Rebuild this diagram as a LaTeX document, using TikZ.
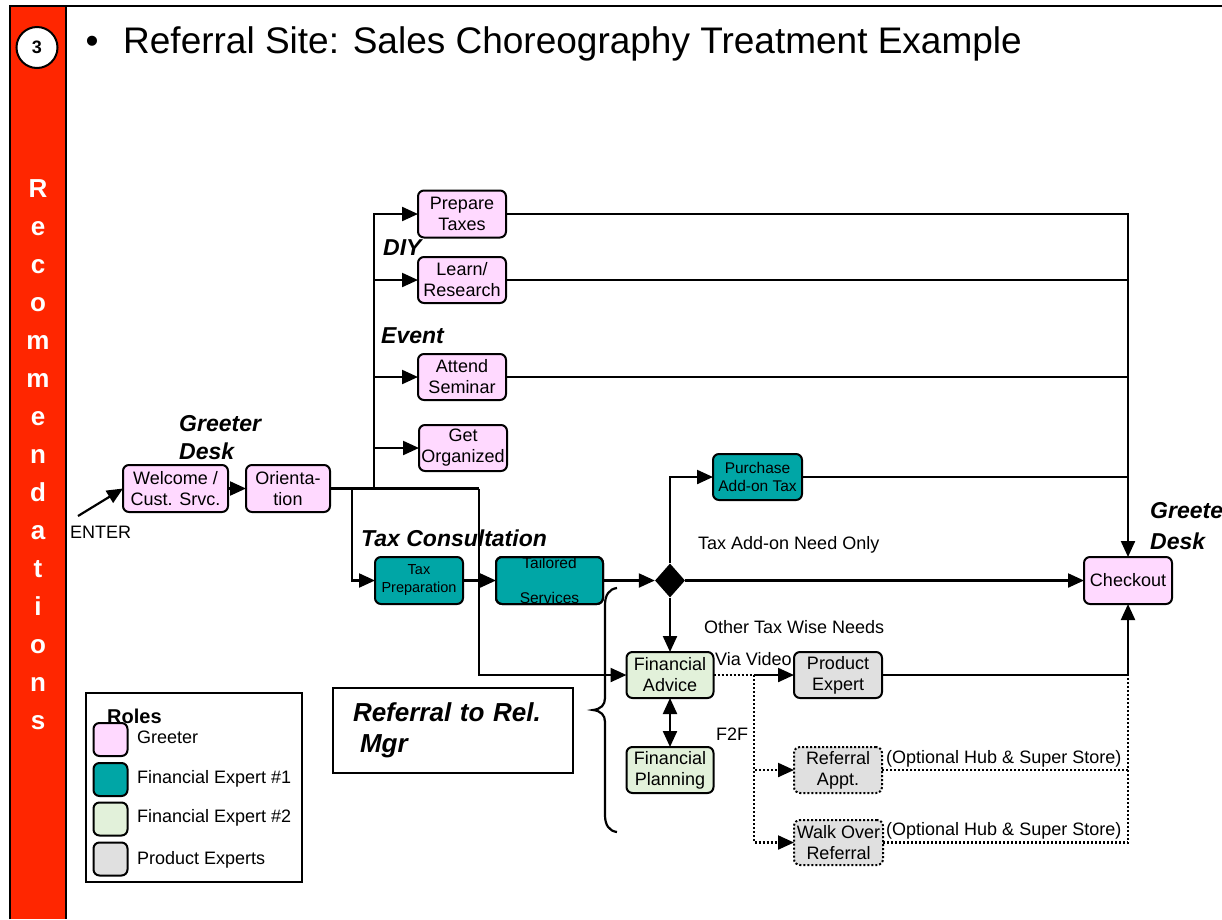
\documentclass[tikz,border=0pt]{standalone}
\usepackage{fontspec}
\setmainfont{Liberation Sans}
\usetikzlibrary{arrows.meta,shapes.geometric}
\definecolor{barred}{RGB}{255,38,0}
\definecolor{greeterpink}{RGB}{255,217,255}
\definecolor{expertteal}{RGB}{0,166,166}
\definecolor{expertgreen}{RGB}{226,241,218}
\definecolor{productgrey}{RGB}{224,224,224}
\begin{document}
\begin{tikzpicture}[x=1pt,y=-1pt,
  txt/.style={inner sep=0pt,font=\fontsize{18}{21}\selectfont},
  stepnode/.style={draw,line width=2pt,rounded corners=6pt,align=center,
    inner sep=1pt,outer sep=0pt,minimum width=88pt,minimum height=47pt,
    font=\fontsize{18}{21}\selectfont},
  greeter/.style={stepnode,fill=greeterpink},
  fexpone/.style={stepnode,fill=expertteal},
  fexptwo/.style={stepnode,fill=expertgreen},
  prodexp/.style={stepnode,fill=productgrey},
  optbox/.style={dash pattern=on 2pt off 2pt},
  wire/.style={line width=2.2pt},
  tip/.tip={Triangle[length=16pt,width=14pt]},
  flow/.style={wire,-tip},
  dotwire/.style={wire,dash pattern=on 2pt off 2pt},
  dotflow/.style={dotwire,-tip},
  twoway/.style={wire,tip-tip},
  rolelbl/.style={inner sep=0pt,font=\fontsize{23}{28}\selectfont\bfseries\itshape}]

\useasboundingbox (0,0) rectangle (1222,919);
\clip (0,0) rectangle (1222,919);

% side bar and frame
\fill[barred] (10,6) rectangle (66,919);
\draw[line width=2pt] (10,919) -- (10,6) -- (1222,6);
\draw[line width=2pt] (66,6) -- (66,919);
\node[circle,draw,line width=2pt,fill=white,minimum size=41pt,inner sep=0pt,
  font=\fontsize{18}{20}\selectfont\bfseries] (stepnum) at (37,47.5) {3};
\foreach \l [count=\i] in {R,e,c,o,m,m,e,n,d,a,t,i,o,n,s}
  \node[anchor=base,inner sep=0pt,text=white,font=\fontsize{26}{30}\selectfont\bfseries]
    (side\i) at (38,{197+38*(\i-1)}) {\l};

% heading
\node[anchor=base,inner sep=0pt,font=\fontsize{37}{40}\selectfont] (bullet) at (92,53) {•};
\node[anchor=base west,inner sep=0pt,font=\fontsize{37}{40}\selectfont] (title) at (123,53)
  {Referral Site: Sales Choreography Treatment Example};

% steps
\node[greeter,minimum width=105pt] (welcome) at (175.5,488.5) {Welcome /\\Cust. Srvc.};
\node[greeter,minimum width=84pt] (orient) at (288,488.5) {Orienta-\\tion};
\node[greeter] (prep) at (462,214) {Prepare\\Taxes};
\node[greeter,minimum height=46pt] (learn) at (462,280) {Learn/\\Research};
\node[greeter,minimum height=46pt] (seminar) at (462,377) {Attend\\Seminar};
\node[greeter,minimum height=46pt] (organize) at (463,448) {Get\\Organized};
\node[fexpone,minimum width=89pt,minimum height=46pt,font=\fontsize{15.5}{18}\selectfont]
  (purchase) at (757.5,477) {Purchase\\Add-on Tax};
\node[fexpone,font=\fontsize{14.5}{18}\selectfont] (taxprep) at (419,580.5) {Tax\\Preparation};
\node[fexpone,minimum width=107pt] (tailored) at (549.5,580.5) {};
\begin{scope}
  \clip[rounded corners=6pt] (tailored.south west) rectangle (tailored.north east);
  \node[anchor=base,inner sep=0pt,font=\fontsize{15.5}{18}\selectfont] (tailoredA) at (549.5,568) {Tailored};
  \node[anchor=base,inner sep=0pt,font=\fontsize{15.5}{18}\selectfont] (tailoredB) at (549.5,603) {Services};
\end{scope}
\draw[line width=2pt,rounded corners=6pt] (tailored.south west) rectangle (tailored.north east);
\node[diamond,fill=black,minimum width=30pt,minimum height=34pt,inner sep=0pt] (gate) at (670,580.5) {};
\node[greeter] (checkout) at (1128,580.5) {Checkout};
\node[fexptwo,minimum width=87pt,minimum height=46pt] (advice) at (670,675) {Financial\\Advice};
\node[fexptwo,minimum width=87pt,minimum height=46pt] (planning) at (670,770) {Financial\\Planning};
\node[prodexp,minimum height=46pt] (product) at (838,675) {Product\\Expert};
\node[prodexp,optbox,minimum height=46pt] (appt) at (838,770) {Referral\\Appt.};
\node[prodexp,optbox,minimum width=89pt,minimum height=45pt] (walkover) at (838.5,842.5) {Walk Over\\Referral};

% section labels
\node[rolelbl,anchor=north west,align=left] (deskin) at (179,415) {Greeter\\Desk};
\node[rolelbl,anchor=north west,align=left,font=\fontsize{23}{31}\selectfont\bfseries\itshape]
  (deskout) at (1150,502) {Greeter\\Desk};
\node[rolelbl,anchor=base west] (diy) at (383,255) {DIY};
\node[rolelbl,anchor=base west] (event) at (381,343) {Event};
\node[rolelbl,anchor=base west] (taxcons) at (361,546) {Tax Consultation};

% plain labels
\node[txt,anchor=base west] (enterlbl) at (70,538) {ENTER};
\node[txt,anchor=base west] (addononly) at (698,549) {Tax Add-on Need Only};
\node[txt,anchor=base west] (otherneeds) at (704,633) {Other Tax Wise Needs};
\node[txt,anchor=base west] (viavideo) at (715,665) {Via Video};
\node[txt,anchor=base west] (ftf) at (716,740) {F2F};
\node[txt,anchor=base west] (opthubA) at (886,763) {(Optional Hub \& Super Store)};
\node[txt,anchor=base west] (opthubB) at (886,835) {(Optional Hub \& Super Store)};

% junction points
\coordinate (enter) at (78,516);
\coordinate (split) at (479,488.5);
\coordinate (trunk) at (374,488.5);
\coordinate (consult) at (352,488.5);
\coordinate (remote) at (754,675);
\coordinate (merge) at (1128,675);

% connectors
\draw[flow] (enter) -- (welcome.west);
\draw[flow] (welcome) -- (orient);
\draw[wire] (orient.east) -- (split);
\draw[flow] (split) |- (advice.west);
\draw[flow] (trunk) |- (prep.west);
\draw[flow] (trunk) |- (learn.west);
\draw[flow] (trunk) |- (seminar.west);
\draw[flow] (trunk) |- (organize.west);
\draw[flow] (consult) |- (taxprep.west);
\draw[flow] (taxprep) -- (tailored);
\draw[flow] (tailored.east) -- (gate.west);
\draw[flow] (gate.north) |- (purchase.west);
\draw[flow] (gate.east) -- (checkout.west);
\draw[flow] (gate.south) -- (advice.north);
\draw[twoway] (advice.south) -- (planning.north);
\draw[dotwire] (advice.east) -- (remote);
\draw[flow] (remote) -- (product.west);
\draw[dotflow] (remote) |- (appt.west);
\draw[dotflow] (remote) |- (walkover.west);
\draw[flow] (prep.east) -| (checkout.north);
\draw[wire] (learn.east) -- (checkout.north |- learn.east);
\draw[wire] (seminar.east) -- (checkout.north |- seminar.east);
\draw[wire] (purchase.east) -- (checkout.north |- purchase.east);
\draw[wire] (product.east) -- (merge);
\draw[flow] (merge) -- (checkout.south);
\draw[dotwire] (appt.east) -| (merge);
\draw[dotwire] (walkover.east) -| (merge);

% brace grouping the advice options
\draw[wire] (617,588) .. controls (609,589) and (605,595) .. (605,605) -- (605,698)
  .. controls (605,705) and (601,709) .. (593,710)
  .. controls (601,711) and (605,715) .. (605,722) -- (605,815)
  .. controls (605,825) and (609,831) .. (617,832);

% referral note
\node[draw,line width=2pt,minimum width=240pt,minimum height=85pt,text width=200pt,align=left,
  inner sep=0pt,font=\fontsize{26}{31}\selectfont\bfseries\itshape] (relmgr) at (453,730.5)
  {Referral to Rel.\\\hspace*{7pt}Mgr};

% legend
\node[draw,line width=2pt,minimum width=216pt,minimum height=189pt,inner sep=0pt] (legend) at (194,787.5) {};
\node[anchor=base west,inner sep=0pt,font=\fontsize{20}{24}\selectfont\bfseries] (rolestitle) at (107,723) {Roles};
\node[greeter,minimum width=34pt,minimum height=33pt] (swA) at (110.5,739.5) {};
\node[fexpone,minimum width=34pt,minimum height=33pt] (swB) at (110.5,779.5) {};
\node[fexptwo,minimum width=34pt,minimum height=33pt] (swC) at (110.5,819) {};
\node[prodexp,minimum width=34pt,minimum height=33pt] (swD) at (110.5,859) {};
\node[txt,anchor=base west] (lgA) at (137,743) {Greeter};
\node[txt,anchor=base west] (lgB) at (137,783) {Financial Expert \#1};
\node[txt,anchor=base west] (lgC) at (137,822) {Financial Expert \#2};
\node[txt,anchor=base west] (lgD) at (137,864) {Product Experts};
\end{tikzpicture}
\end{document}
